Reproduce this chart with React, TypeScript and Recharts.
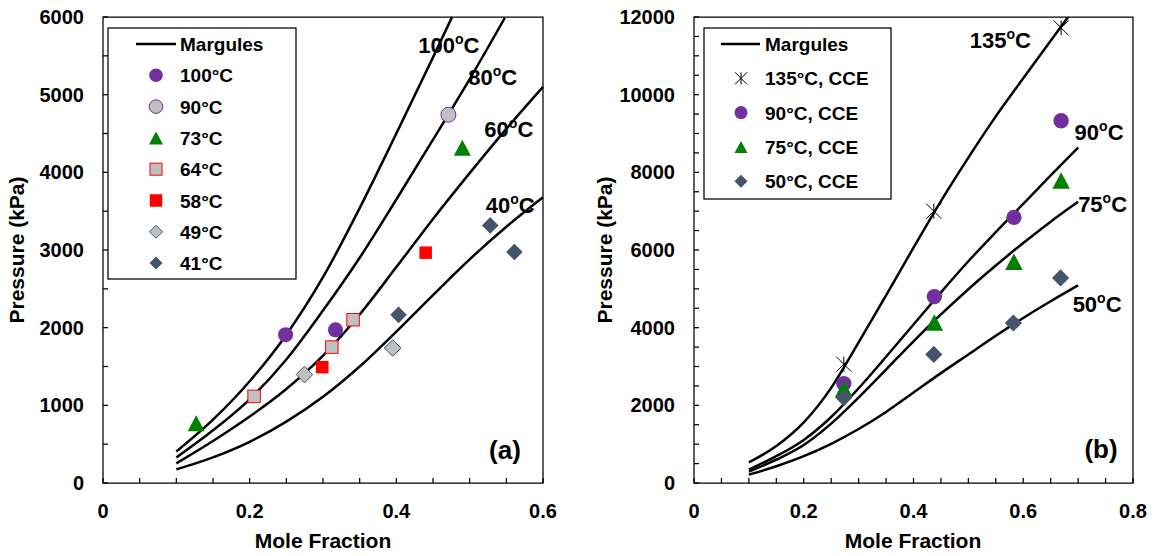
import React from 'react';
import { ComposedChart, Line, Scatter, XAxis, YAxis, ReferenceArea, ReferenceDot } from 'recharts';

const FONT = '"Liberation Sans", Arial, Helvetica, sans-serif';
const PURPLE = '#7030A0';
const GREEN = '#008000';
const RED = '#FF0000';
const GRAY = '#C0C0C0';
const SLATE = '#44546A';

// ---------- Panel (a) ----------
const xTicksA = [0, 0.05, 0.1, 0.15, 0.2, 0.25, 0.3, 0.35, 0.4, 0.45, 0.5, 0.55, 0.6];
const xLabelsA = [0, 0.2, 0.4, 0.6];
const yTicksA = [0, 500, 1000, 1500, 2000, 2500, 3000, 3500, 4000, 4500, 5000, 5500, 6000];
const yLabelsA = [0, 1000, 2000, 3000, 4000, 5000, 6000];

const margules100A = [
  { x: 0.1, y: 405 }, { x: 0.15, y: 815 }, { x: 0.2, y: 1310 }, { x: 0.25, y: 1910 },
  { x: 0.3, y: 2650 }, { x: 0.35, y: 3540 }, { x: 0.4, y: 4500 }, { x: 0.45, y: 5480 }, { x: 0.476, y: 6000 },
];
const margules80A = [
  { x: 0.1, y: 328 }, { x: 0.15, y: 678 }, { x: 0.2, y: 1078 }, { x: 0.25, y: 1590 },
  { x: 0.3, y: 2220 }, { x: 0.35, y: 2900 }, { x: 0.4, y: 3650 }, { x: 0.45, y: 4420 },
  { x: 0.5, y: 5200 }, { x: 0.548, y: 5990 },
];
const margules60A = [
  { x: 0.1, y: 252 }, { x: 0.15, y: 540 }, { x: 0.2, y: 855 }, { x: 0.25, y: 1210 },
  { x: 0.3, y: 1640 }, { x: 0.35, y: 2170 }, { x: 0.4, y: 2780 }, { x: 0.45, y: 3400 },
  { x: 0.5, y: 3990 }, { x: 0.55, y: 4560 }, { x: 0.6, y: 5100 },
];
const margules40A = [
  { x: 0.1, y: 176 }, { x: 0.15, y: 330 }, { x: 0.2, y: 530 }, { x: 0.25, y: 790 },
  { x: 0.3, y: 1110 }, { x: 0.35, y: 1500 }, { x: 0.4, y: 1950 }, { x: 0.45, y: 2420 },
  { x: 0.5, y: 2880 }, { x: 0.55, y: 3300 }, { x: 0.6, y: 3680 },
];

const t100A = [{ x: 0.249, y: 1910 }, { x: 0.317, y: 1972 }];
const t90A = [{ x: 0.471, y: 4742 }];
const t73A = [{ x: 0.127, y: 768 }, { x: 0.49, y: 4316 }];
const t64A = [{ x: 0.206, y: 1115 }, { x: 0.312, y: 1750 }, { x: 0.341, y: 2102 }];
const t58A = [{ x: 0.299, y: 1492 }, { x: 0.44, y: 2966 }];
const t49A = [{ x: 0.2747, y: 1396 }, { x: 0.395, y: 1738 }];
const t41A = [{ x: 0.403, y: 2165 }, { x: 0.528, y: 3317 }, { x: 0.561, y: 2974 }];

const curveLabelsA = [
  { t: '100', x: 0.43, y: 5536 },
  { t: '80', x: 0.498, y: 5124 },
  { t: '60', x: 0.52, y: 4459 },
  { t: '40', x: 0.522, y: 3476 },
];
const legendA = ['Margules', '100°C', '90°C', '73°C', '64°C', '58°C', '49°C', '41°C'];

// ---------- Panel (b) ----------
const xTicksB = [0, 0.05, 0.1, 0.15, 0.2, 0.25, 0.3, 0.35, 0.4, 0.45, 0.5, 0.55, 0.6, 0.65, 0.7, 0.75, 0.8];
const xLabelsB = [0, 0.2, 0.4, 0.6, 0.8];
const yTicksB = [0, 500, 1000, 1500, 2000, 2500, 3000, 3500, 4000, 4500, 5000, 5500, 6000, 6500, 7000, 7500, 8000, 8500, 9000, 9500, 10000, 10500, 11000, 11500, 12000];
const yLabelsB = [0, 2000, 4000, 6000, 8000, 10000, 12000];

const margules135B = [
  { x: 0.1, y: 530 }, { x: 0.15, y: 950 }, { x: 0.2, y: 1560 }, { x: 0.25, y: 2450 },
  { x: 0.3, y: 3620 }, { x: 0.35, y: 4830 }, { x: 0.4, y: 6060 }, { x: 0.45, y: 7260 },
  { x: 0.5, y: 8380 }, { x: 0.55, y: 9440 }, { x: 0.6, y: 10420 }, { x: 0.65, y: 11390 }, { x: 0.7, y: 12350 },
];
const margules90B = [
  { x: 0.1, y: 345 }, { x: 0.15, y: 690 }, { x: 0.2, y: 1110 }, { x: 0.25, y: 1700 },
  { x: 0.3, y: 2440 }, { x: 0.35, y: 3250 }, { x: 0.4, y: 4080 }, { x: 0.45, y: 4910 },
  { x: 0.5, y: 5710 }, { x: 0.55, y: 6460 }, { x: 0.6, y: 7190 }, { x: 0.65, y: 7920 }, { x: 0.7, y: 8640 },
];
const margules75B = [
  { x: 0.1, y: 295 }, { x: 0.15, y: 600 }, { x: 0.2, y: 980 }, { x: 0.25, y: 1530 },
  { x: 0.3, y: 2200 }, { x: 0.35, y: 2920 }, { x: 0.4, y: 3650 }, { x: 0.45, y: 4340 },
  { x: 0.5, y: 4990 }, { x: 0.55, y: 5600 }, { x: 0.6, y: 6180 }, { x: 0.65, y: 6730 }, { x: 0.7, y: 7240 },
];
const margules50B = [
  { x: 0.1, y: 215 }, { x: 0.15, y: 430 }, { x: 0.2, y: 690 }, { x: 0.25, y: 1010 },
  { x: 0.3, y: 1390 }, { x: 0.35, y: 1830 }, { x: 0.4, y: 2330 }, { x: 0.45, y: 2830 },
  { x: 0.5, y: 3310 }, { x: 0.55, y: 3790 }, { x: 0.6, y: 4250 }, { x: 0.65, y: 4680 }, { x: 0.7, y: 5090 },
];

const cce135B = [{ x: 0.273, y: 3060 }, { x: 0.437, y: 7000 }, { x: 0.669, y: 11720 }];
const cce90B = [{ x: 0.273, y: 2560 }, { x: 0.438, y: 4800 }, { x: 0.583, y: 6840 }, { x: 0.669, y: 9330 }];
const cce75B = [{ x: 0.273, y: 2430 }, { x: 0.438, y: 4130 }, { x: 0.583, y: 5700 }, { x: 0.669, y: 7790 }];
const cce50B = [{ x: 0.273, y: 2200 }, { x: 0.437, y: 3310 }, { x: 0.582, y: 4120 }, { x: 0.668, y: 5280 }];

const curveLabelsB = [
  { t: '135', x: 0.5024, y: 11195 },
  { t: '90', x: 0.6936, y: 8833 },
  { t: '75', x: 0.7, y: 6987 },
  { t: '50', x: 0.69, y: 4412 },
];
const legendB = ['Margules', '135°C, CCE', '90°C, CCE', '75°C, CCE', '50°C, CCE'];

// ---------- marker shapes ----------
const Circle = ({ cx, cy, r = 7.5, fill, stroke }: any) => (
  <circle cx={cx} cy={cy} r={r} fill={fill} stroke={stroke || 'none'} strokeWidth={1} />
);
const Square = ({ cx, cy, s = 12.5, fill, stroke }: any) => (
  <rect x={cx - s / 2} y={cy - s / 2} width={s} height={s} fill={fill} stroke={stroke || 'none'} strokeWidth={1} />
);
const Diamond = ({ cx, cy, h = 8.3, fill, stroke }: any) => (
  <path d={`M${cx},${cy - h}L${cx + h},${cy}L${cx},${cy + h}L${cx - h},${cy}Z`} fill={fill} stroke={stroke || 'none'} strokeWidth={1} />
);
const Triangle = ({ cx, cy, w = 17, h = 16, fill }: any) => (
  <path d={`M${cx},${cy - h / 2}L${cx + w / 2},${cy + h / 2}L${cx - w / 2},${cy + h / 2}Z`} fill={fill} />
);
const Star = ({ cx, cy, s = 7.5 }: any) => (
  <g stroke="#000" strokeWidth={1}>
    <line x1={cx - s} y1={cy - s} x2={cx + s} y2={cy + s} />
    <line x1={cx - s} y1={cy + s} x2={cx + s} y2={cy - s} />
    <line x1={cx} y1={cy - s} x2={cx} y2={cy + s} />
  </g>
);

const shp = (C: any, extra: any) => (p: any) => <C cx={p.cx} cy={p.cy} {...extra} />;

// ---------- ticks ----------
const fmt = (v: number) => (Math.round(v * 100) / 100).toString();
const makeXTick = (labels: number[]) => (props: any) => {
  const { x, y, payload } = props;
  const v = payload.value;
  const show = labels.some((l) => Math.abs(l - v) < 1e-6);
  return (
    <g>
      <line x1={x} x2={x} y1={y} y2={y - 5} stroke="#000" strokeWidth={1.25} />
      {show && (
        <text x={x} y={y + 35} textAnchor="middle" fontFamily={FONT} fontWeight="bold" fontSize={20} fill="#000">
          {fmt(v)}
        </text>
      )}
    </g>
  );
};
const makeYTick = (labels: number[]) => (props: any) => {
  const { x, y, payload } = props;
  const v = payload.value;
  const show = labels.includes(v);
  return (
    <g>
      <line x1={x} x2={x + 5} y1={y} y2={y} stroke="#000" strokeWidth={1.25} />
      {show && (
        <text x={x - 19} y={y + 7} textAnchor="end" fontFamily={FONT} fontWeight="bold" fontSize={20} fill="#000">
          {v}
        </text>
      )}
    </g>
  );
};

const CurveLabel = ({ cx, cy, t }: any) => (
  <text x={cx} y={cy} fontFamily={FONT} fontWeight="bold" fontSize={22} fill="#000">
    {t}
    <tspan fontSize={14} dy={-9}>o</tspan>
    <tspan fontSize={22} dy={9}>C</tspan>
  </text>
);

const lineProps = { dataKey: 'y', type: 'monotone' as const, stroke: '#000', strokeWidth: 2.5, dot: false, activeDot: false, isAnimationActive: false, legendType: 'none' as const };

export default function App() {
  return (
    <div style={{ position: 'absolute', left: 0, top: 0, width: 1157, height: 556, background: '#fff' }}>
      <div style={{ position: 'absolute', left: 0, top: 0 }}>
        <ComposedChart width={575} height={556} margin={{ top: 17, right: 32, bottom: 33, left: 43 }}>
          <XAxis dataKey="x" type="number" domain={[0, 0.6]} ticks={xTicksA} interval={0} tickSize={0} tickMargin={0}
            axisLine={false} tickLine={false} height={40} tick={makeXTick(xLabelsA)} />
          <YAxis dataKey="y" type="number" domain={[0, 6000]} ticks={yTicksA} interval={0} tickSize={0} tickMargin={0}
            axisLine={false} tickLine={false} width={60} tick={makeYTick(yLabelsA)} />
          <Line data={margules100A} {...lineProps} />
          <Line data={margules80A} {...lineProps} />
          <Line data={margules60A} {...lineProps} />
          <Line data={margules40A} {...lineProps} />
          <Scatter data={t100A} dataKey="y" isAnimationActive={false} shape={shp(Circle, { fill: PURPLE })} />
          <Scatter data={t90A} dataKey="y" isAnimationActive={false} shape={shp(Circle, { fill: GRAY, stroke: PURPLE })} />
          <Scatter data={t73A} dataKey="y" isAnimationActive={false} shape={shp(Triangle, { fill: GREEN })} />
          <Scatter data={t64A} dataKey="y" isAnimationActive={false} shape={shp(Square, { fill: GRAY, stroke: RED })} />
          <Scatter data={t58A} dataKey="y" isAnimationActive={false} shape={shp(Square, { fill: RED })} />
          <Scatter data={t49A} dataKey="y" isAnimationActive={false} shape={shp(Diamond, { fill: GRAY, stroke: SLATE })} />
          <Scatter data={t41A} dataKey="y" isAnimationActive={false} shape={shp(Diamond, { fill: SLATE })} />
          <ReferenceArea x1={0} x2={0.6} y1={0} y2={6000} fill="none" fillOpacity={0} stroke="#000" strokeWidth={1.25} ifOverflow="visible" />
          {curveLabelsA.map((c) => (
            <ReferenceDot key={c.t} x={c.x} y={c.y} r={0} ifOverflow="visible"
              shape={(p: any) => <CurveLabel cx={p.cx} cy={p.cy} t={c.t} />} />
          ))}
        </ComposedChart>
      </div>
      <div style={{ position: 'absolute', left: 575, top: 0 }}>
        <ComposedChart width={582} height={556} margin={{ top: 17, right: 24, bottom: 33, left: 49 }}>
          <XAxis dataKey="x" type="number" domain={[0, 0.8]} ticks={xTicksB} interval={0} tickSize={0} tickMargin={0}
            axisLine={false} tickLine={false} height={40} tick={makeXTick(xLabelsB)} />
          <YAxis dataKey="y" type="number" domain={[0, 12000]} allowDataOverflow ticks={yTicksB} interval={0} tickSize={0} tickMargin={0}
            axisLine={false} tickLine={false} width={70} tick={makeYTick(yLabelsB)} />
          <Line data={margules135B} {...lineProps} />
          <Line data={margules90B} {...lineProps} />
          <Line data={margules75B} {...lineProps} />
          <Line data={margules50B} {...lineProps} />
          <Scatter data={cce135B} dataKey="y" isAnimationActive={false} shape={shp(Star, {})} />
          <Scatter data={cce90B} dataKey="y" isAnimationActive={false} shape={shp(Circle, { fill: PURPLE, r: 7.7 })} />
          <Scatter data={cce75B} dataKey="y" isAnimationActive={false} shape={shp(Triangle, { fill: GREEN, w: 17.5, h: 16.5 })} />
          <Scatter data={cce50B} dataKey="y" isAnimationActive={false} shape={shp(Diamond, { fill: SLATE, h: 8.6 })} />
          <ReferenceArea x1={0} x2={0.8} y1={0} y2={12000} fill="none" fillOpacity={0} stroke="#000" strokeWidth={1.25} ifOverflow="visible" />
          {curveLabelsB.map((c) => (
            <ReferenceDot key={c.t} x={c.x} y={c.y} r={0} ifOverflow="visible"
              shape={(p: any) => <CurveLabel cx={p.cx} cy={p.cy} t={c.t} />} />
          ))}
        </ComposedChart>
      </div>
      <svg width={1157} height={556} style={{ position: 'absolute', left: 0, top: 0, pointerEvents: 'none' }}>
        <g fontFamily={FONT} fontWeight="bold" fill="#000">
          <text x={323} y={548} textAnchor="middle" fontSize={21}>Mole Fraction</text>
          <text x={913} y={548} textAnchor="middle" fontSize={21}>Mole Fraction</text>
          <text transform="translate(24,250) rotate(-90)" textAnchor="middle" fontSize={21}>Pressure (kPa)</text>
          <text transform="translate(612,250) rotate(-90)" textAnchor="middle" fontSize={21}>Pressure (kPa)</text>
          <text x={505} y={459} textAnchor="middle" fontSize={26}>(a)</text>
          <text x={1101} y={458} textAnchor="middle" fontSize={26}>(b)</text>
        </g>
        {/* Legend (a) */}
        <rect x={108} y={28} width={188} height={251} fill="#fff" stroke="#000" strokeWidth={1.25} />
        <g fontFamily={FONT} fontWeight="bold" fontSize={19} fill="#000">
          {legendA.map((t, i) => {
            const cy = 44 + i * 31.3;
            return <text key={t} x={180} y={cy + 7}>{t}</text>;
          })}
        </g>
        <line x1={136} x2={176} y1={44} y2={44} stroke="#000" strokeWidth={2.5} />
        <Circle cx={156} cy={44 + 31.3} r={6.8} fill={PURPLE} />
        <Circle cx={156} cy={44 + 2 * 31.3} r={6.8} fill={GRAY} stroke={PURPLE} />
        <Triangle cx={156} cy={44 + 3 * 31.3} w={14} h={13} fill={GREEN} />
        <Square cx={156} cy={44 + 4 * 31.3} s={12} fill={GRAY} stroke={RED} />
        <Square cx={156} cy={44 + 5 * 31.3} s={12.5} fill={RED} />
        <Diamond cx={156} cy={44 + 6 * 31.3} h={6.5} fill={GRAY} stroke={SLATE} />
        <Diamond cx={156} cy={44 + 7 * 31.3} h={6.5} fill={SLATE} />
        {/* Legend (b) */}
        <rect x={704} y={28} width={187} height={171} fill="#fff" stroke="#000" strokeWidth={1.25} />
        <g fontFamily={FONT} fontWeight="bold" fontSize={19} fill="#000">
          {legendB.map((t, i) => {
            const cy = 44 + i * 34.3;
            return <text key={t} x={765} y={cy + 7}>{t}</text>;
          })}
        </g>
        <line x1={721} x2={760} y1={44} y2={44} stroke="#000" strokeWidth={2.5} />
        <Star cx={741} cy={44 + 34.3} s={6} />
        <Circle cx={741} cy={44 + 2 * 34.3} r={6.5} fill={PURPLE} />
        <Triangle cx={741} cy={44 + 3 * 34.3} w={13} h={12} fill={GREEN} />
        <Diamond cx={741} cy={44 + 4 * 34.3} h={6.5} fill={SLATE} />
      </svg>
    </div>
  );
}
